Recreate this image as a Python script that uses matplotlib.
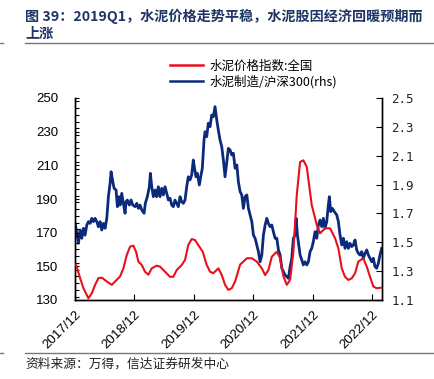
import matplotlib
matplotlib.use("Agg")
import matplotlib.pyplot as plt
from matplotlib.lines import Line2D
from matplotlib.ticker import MultipleLocator, NullFormatter
from datetime import datetime, timedelta

plt.rcParams['font.family'] = ['Liberation Sans', 'Noto Sans CJK SC', 'DejaVu Sans']

# ---------------- data ----------------
title_lines = ["图 39：2019Q1，水泥价格走势平稳，水泥股因经济回暖预期而", "上涨"]
source_text = "资料来源：万得，信达证券研发中心"
label_price = "水泥价格指数:全国"
label_ratio = "水泥制造/沪深300(rhs)"

# cement price index (left axis), time as decimal years
price_t = [2017.934, 2018.001, 2018.057, 2018.141, 2018.198, 2018.254, 2018.309, 2018.366,
           2018.451, 2018.535, 2018.619, 2018.675, 2018.730, 2018.787, 2018.843, 2018.898,
           2018.944, 2018.983, 2019.040, 2019.095, 2019.151, 2019.208, 2019.292, 2019.348,
           2019.432, 2019.516, 2019.572, 2019.629, 2019.713, 2019.769, 2019.824, 2019.881,
           2019.937, 2020.010, 2020.067, 2020.134, 2020.190, 2020.245, 2020.329, 2020.387,
           2020.442, 2020.498, 2020.555, 2020.611, 2020.695, 2020.808, 2020.892, 2020.976,
           2021.060, 2021.116, 2021.171, 2021.228, 2021.313, 2021.368, 2021.424, 2021.481,
           2021.537, 2021.592, 2021.649, 2021.705, 2021.760, 2021.818, 2021.901, 2021.986,
           2022.041, 2022.125, 2022.210, 2022.294, 2022.350, 2022.407, 2022.462, 2022.518,
           2022.575, 2022.631, 2022.686, 2022.770, 2022.828, 2022.883, 2022.939, 2022.996,
           2023.068]
price_v = [151.0, 143.0, 137.0, 131.0, 134.0, 139.0, 143.0, 143.3,
           141.0, 139.0, 142.0, 144.0, 148.8, 156.7, 161.7, 162.3,
           158.7, 152.8, 150.8, 146.8, 145.0, 148.8, 150.4, 149.8,
           146.8, 143.8, 143.8, 147.8, 150.8, 153.8, 162.7, 166.2,
           165.6, 161.7, 158.7, 150.8, 146.8, 145.9, 148.8, 144.8,
           139.0, 136.0, 137.0, 141.0, 151.0, 154.8, 154.8, 152.8,
           148.8, 144.8, 147.8, 155.7, 158.7, 154.8, 144.0, 139.0,
           142.0, 158.7, 192.4, 212.0, 213.0, 209.0, 186.4, 174.6,
           169.6, 172.6, 172.6, 166.7, 160.7, 148.8, 143.8, 141.9,
           142.9, 145.9, 152.8, 154.8, 149.8, 143.8, 138.0, 137.0,
           137.3]

# cement manufacturing / CSI300 ratio (right axis)
ratio_t = [2017.917, 2017.946, 2017.973, 2018.001, 2018.030, 2018.057, 2018.085, 2018.114,
           2018.141, 2018.170, 2018.198, 2018.225, 2018.254, 2018.282, 2018.309, 2018.338,
           2018.366, 2018.393, 2018.422, 2018.451, 2018.478, 2018.506, 2018.523, 2018.552,
           2018.574, 2018.607, 2018.629, 2018.653, 2018.675, 2018.703, 2018.730, 2018.759,
           2018.775, 2018.797, 2018.831, 2018.860, 2018.888, 2018.927, 2018.956, 2018.983,
           2019.011, 2019.040, 2019.079, 2019.100, 2019.134, 2019.168, 2019.185, 2019.208,
           2019.235, 2019.264, 2019.292, 2019.319, 2019.348, 2019.377, 2019.404, 2019.432,
           2019.461, 2019.488, 2019.516, 2019.545, 2019.572, 2019.600, 2019.629, 2019.656,
           2019.685, 2019.713, 2019.740, 2019.769, 2019.797, 2019.824, 2019.853, 2019.881,
           2019.908, 2019.925, 2019.954, 2019.976, 2020.010, 2020.033, 2020.060, 2020.089,
           2020.106, 2020.134, 2020.161, 2020.190, 2020.218, 2020.245, 2020.274, 2020.303,
           2020.329, 2020.358, 2020.387, 2020.414, 2020.442, 2020.471, 2020.498, 2020.526,
           2020.555, 2020.582, 2020.611, 2020.640, 2020.666, 2020.695, 2020.723, 2020.750,
           2020.779, 2020.808, 2020.835, 2020.863, 2020.892, 2020.919, 2020.947, 2020.976,
           2021.003, 2021.031, 2021.060, 2021.087, 2021.116, 2021.144, 2021.171, 2021.200,
           2021.228, 2021.255, 2021.284, 2021.313, 2021.340, 2021.368, 2021.397, 2021.424,
           2021.452, 2021.481, 2021.508, 2021.537, 2021.565, 2021.592, 2021.621, 2021.638,
           2021.660, 2021.683, 2021.705, 2021.734, 2021.760, 2021.789, 2021.818, 2021.845,
           2021.873, 2021.901, 2021.928, 2021.957, 2021.986, 2022.013, 2022.041, 2022.070,
           2022.097, 2022.125, 2022.154, 2022.181, 2022.198, 2022.221, 2022.249, 2022.282,
           2022.323, 2022.350, 2022.378, 2022.407, 2022.434, 2022.462, 2022.491, 2022.518,
           2022.546, 2022.575, 2022.602, 2022.631, 2022.659, 2022.686, 2022.715, 2022.743,
           2022.770, 2022.800, 2022.828, 2022.855, 2022.883, 2022.912, 2022.939, 2022.967,
           2022.996, 2023.023, 2023.051, 2023.080]
ratio_v = [1.631, 1.562, 1.493, 1.585, 1.528, 1.597, 1.550, 1.620,
           1.643, 1.631, 1.666, 1.643, 1.666, 1.643, 1.608, 1.643,
           1.585, 1.631, 1.597, 1.666, 1.816, 1.909, 1.989, 1.920,
           1.874, 1.862, 1.747, 1.816, 1.758, 1.839, 1.770, 1.701,
           1.781, 1.793, 1.758, 1.793, 1.758, 1.747, 1.770, 1.735,
           1.758, 1.724, 1.701, 1.770, 1.816, 1.885, 1.978, 1.885,
           1.816, 1.862, 1.816, 1.885, 1.816, 1.874, 1.828, 1.885,
           1.839, 1.793, 1.805, 1.758, 1.747, 1.793, 1.770, 1.747,
           1.816, 1.781, 1.770, 1.793, 1.885, 1.954, 1.932, 1.966,
           2.070, 2.024, 1.954, 1.978, 1.897, 1.954, 2.013, 2.209,
           2.266, 2.232, 2.325, 2.301, 2.382, 2.370, 2.440, 2.348,
           2.278, 2.209, 2.162, 2.070, 1.954, 2.058, 2.151, 2.140,
           2.105, 2.117, 2.013, 2.036, 1.920, 1.851, 1.828, 1.735,
           1.816, 1.828, 1.735, 1.689, 1.643, 1.550, 1.528, 1.481,
           1.435, 1.365, 1.412, 1.550, 1.620, 1.666, 1.631, 1.608,
           1.620, 1.573, 1.528, 1.528, 1.447, 1.412, 1.320, 1.296,
           1.273, 1.261, 1.250, 1.331, 1.389, 1.528, 1.550, 1.666,
           1.550, 1.481, 1.412, 1.377, 1.343, 1.365, 1.343, 1.365,
           1.435, 1.458, 1.504, 1.573, 1.528, 1.620, 1.654, 1.608,
           1.666, 1.597, 1.643, 1.758, 1.816, 1.712, 1.735, 1.712,
           1.689, 1.643, 1.550, 1.481, 1.528, 1.458, 1.504, 1.458,
           1.493, 1.470, 1.481, 1.516, 1.447, 1.424, 1.412, 1.435,
           1.389, 1.424, 1.447, 1.412, 1.389, 1.365, 1.389, 1.331,
           1.320, 1.354, 1.412, 1.458]

x_tick_dates = ["2017-12-01", "2018-12-01", "2019-12-01", "2020-12-01", "2021-12-01", "2022-12-01"]
x_tick_labels = ["2017/12", "2018/12", "2019/12", "2020/12", "2021/12", "2022/12"]
left_ticks = [130, 150, 170, 190, 210, 230, 250]
right_ticks = [1.1, 1.3, 1.5, 1.7, 1.9, 2.1, 2.3, 2.5]
x_range = (2017.917, 2023.080)


def to_date(y):
    yr = int(y)
    start = datetime(yr, 1, 1)
    ndays = (datetime(yr + 1, 1, 1) - start).days
    return start + timedelta(days=(y - yr) * ndays)


price_d = [to_date(v) for v in price_t]
ratio_d = [to_date(v) for v in ratio_t]

# ---------------- figure ----------------
W, H = 435, 379
fig = plt.figure(figsize=(W / 100, H / 100), dpi=100)
ax = fig.add_axes([75 / W, 1 - 300 / H, (381.7 - 75) / W, (300 - 98) / H])
ax2 = ax.twinx()

red = '#E8101A'
blue = '#0B2A7C'
ax.plot(price_d, price_v, color=red, lw=1.5, zorder=3)
ax2.plot(ratio_d, ratio_v, color=blue, lw=2.0, zorder=2)
ax.set_zorder(ax2.get_zorder() + 1)
ax.patch.set_visible(False)

ax.set_xlim(to_date(x_range[0]), to_date(x_range[1]))
ax.set_ylim(130, 250)
ax2.set_ylim(1.1, 2.5)

tick_d = [datetime.strptime(s, "%Y-%m-%d") for s in x_tick_dates]
ax.set_xticks(tick_d)
ax.set_xticklabels(x_tick_labels, rotation=45, ha='right', rotation_mode='anchor', fontsize=9.5)
ax.set_yticks(left_ticks)
ax.set_yticklabels([str(v) for v in left_ticks], fontsize=9.5)
ax.yaxis.set_minor_locator(MultipleLocator(4))
ax.yaxis.set_minor_formatter(NullFormatter())
ax2.set_yticks(right_ticks)
ax2.set_yticklabels([f"{v:.1f}" for v in right_ticks], fontsize=9, family='DejaVu Sans Mono', color='#222222')

ax.tick_params(axis='x', direction='in', length=4, width=0.8, pad=6)
ax.tick_params(axis='y', which='both', direction='in', length=3, width=0.8, pad=12)
ax2.tick_params(axis='y', direction='in', length=4, width=0.8, pad=7)

for a in (ax, ax2):
    a.spines['top'].set_visible(False)
    for s in ('left', 'right', 'bottom'):
        a.spines[s].set_linewidth(1.0)
        a.spines[s].set_color('black')

# legend
handles = [Line2D([], [], color=red, lw=1.8), Line2D([], [], color=blue, lw=1.8)]
fig.legend(handles, [label_price, label_ratio], loc='upper left',
           bbox_to_anchor=(163 / W, 1 - 52 / H), frameon=False,
           prop={'family': ['Noto Sans CJK SC'], 'size': 9},
           handlelength=2.6, handletextpad=0.5, labelspacing=0.2, borderpad=0.1)

# title
title_color = '#1F3565'
fig.text(25 / W, 1 - 16 / H, title_lines[0], fontsize=10.2, fontweight='bold', color=title_color,
         va='center', ha='left', family=['Noto Sans CJK SC', 'DejaVu Sans'])
fig.text(25 / W, 1 - 34 / H, title_lines[1], fontsize=10.2, fontweight='bold', color=title_color,
         va='center', ha='left', family=['Noto Sans CJK SC', 'DejaVu Sans'])

# separator lines
fig.add_artist(Line2D([25 / W, 1.0], [1 - 43 / H, 1 - 43 / H], color='#777777', lw=1.0))
fig.add_artist(Line2D([0, 3 / W], [1 - 43 / H, 1 - 43 / H], color='#777777', lw=1.0))
fig.add_artist(Line2D([25 / W, 1.0], [1 - 353 / H, 1 - 353 / H], color='#777777', lw=1.0))
fig.add_artist(Line2D([0, 3 / W], [1 - 353 / H, 1 - 353 / H], color='#777777', lw=1.0))

fig.text(25 / W, 1 - 364 / H, source_text, fontsize=9.2, style='italic', color='#222222',
         va='center', ha='left', family=['Noto Sans CJK SC', 'DejaVu Sans'])

fig.savefig('out.png', dpi=100)
